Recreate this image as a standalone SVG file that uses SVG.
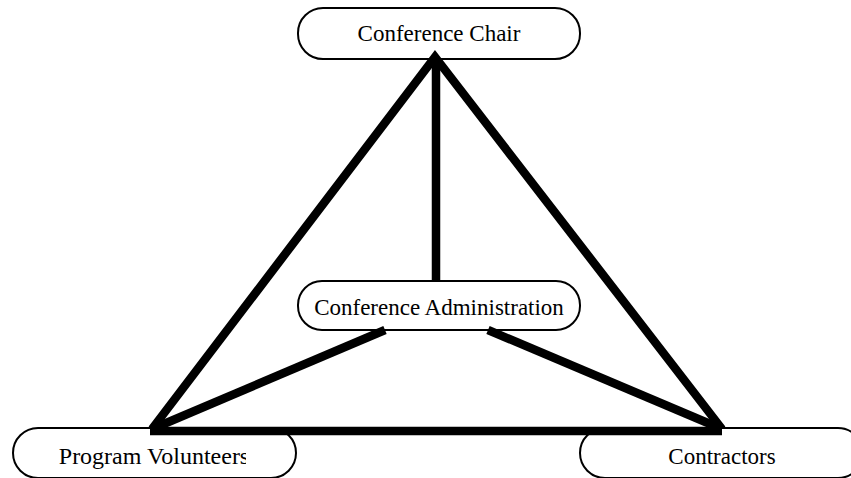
<svg xmlns="http://www.w3.org/2000/svg" width="851" height="478" viewBox="0 0 851 478">
<style>
.box{fill:#fff;stroke:#000;stroke-width:2}
.lbl{font-family:"Liberation Serif","Times New Roman",serif;font-size:23px;fill:#000;text-anchor:middle}
.ln{stroke:#000;stroke-width:8.5;fill:none;stroke-linecap:butt}
</style>
<defs>
<clipPath id="pvclip"><rect x="0" y="420" width="246" height="58"/></clipPath>
</defs>
<rect width="851" height="478" fill="#fff"/>
<g id="chair">
<rect class="box" x="298" y="8" width="282" height="51" rx="25" ry="25"/>
<text class="lbl" x="439" y="41">Conference Chair</text>
</g>
<g id="admin">
<rect class="box" x="298" y="281" width="282" height="49" rx="24" ry="24"/>
<text class="lbl" x="439" y="315">Conference Administration</text>
</g>
<g id="volunteers">
<rect class="box" x="13" y="428" width="283" height="50" rx="25" ry="25"/>
<text class="lbl" x="154" y="464" style="font-size:24px" clip-path="url(#pvclip)">Program Volunteers</text>
</g>
<g id="contractors">
<rect class="box" x="580" y="428" width="283" height="50" rx="25" ry="25"/>
<text class="lbl" x="722" y="464">Contractors</text>
</g>
<g id="connectors">
<polyline class="ln" points="152,429 435,57 722,429" stroke-linejoin="miter" stroke-miterlimit="10"/>
<line class="ln" x1="436" y1="60" x2="436" y2="281"/>
<line class="ln" x1="150" y1="431" x2="722" y2="431"/>
<line class="ln" x1="385" y1="330" x2="152" y2="429"/>
<line class="ln" x1="488" y1="330" x2="722" y2="429"/>
</g>
</svg>
